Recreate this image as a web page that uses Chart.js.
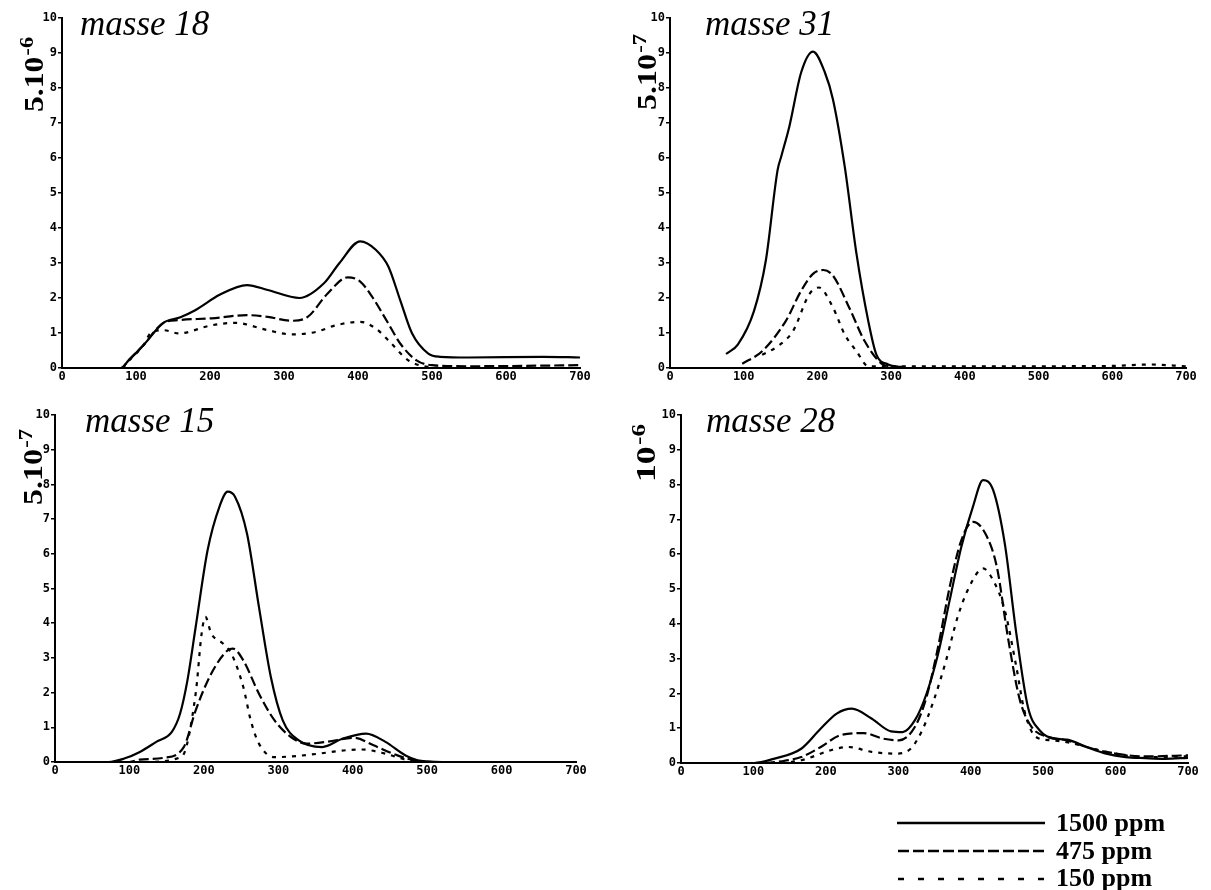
<!DOCTYPE html>
<html>
<head>
<meta charset="utf-8">
<script src="https://cdn.jsdelivr.net/npm/chart.js@4/dist/chart.umd.min.js"></script>
<style>
  html, body { margin: 0; padding: 0; background: #fff; }
  #wrap { position: relative; width: 1211px; height: 890px; overflow: hidden; background: #fff; }
  .pane { position: absolute; }
  #legend { position: absolute; left: 0; top: 0; }
</style>
</head>
<body>
<div id="wrap">
  <div class="pane" style="left:0;top:0;width:605px;height:400px"><canvas id="c18"></canvas></div>
  <div class="pane" style="left:605px;top:0;width:606px;height:400px"><canvas id="c31"></canvas></div>
  <div class="pane" style="left:0;top:400px;width:605px;height:400px"><canvas id="c15"></canvas></div>
  <div class="pane" style="left:605px;top:400px;width:606px;height:400px"><canvas id="c28"></canvas></div>
  <svg id="legend" width="1211" height="890">
    <line x1="897" y1="823" x2="1045" y2="823" stroke="#000" stroke-width="2.5"/>
    <line x1="898" y1="851" x2="1045" y2="851" stroke="#000" stroke-width="2.5" stroke-dasharray="11,4"/>
    <line x1="898" y1="879" x2="1045" y2="879" stroke="#000" stroke-width="2.5" stroke-dasharray="6,14"/>
    <text x="1056" y="831" font-family="Liberation Serif" font-weight="bold" font-size="26">1500 ppm</text>
    <text x="1056" y="859" font-family="Liberation Serif" font-weight="bold" font-size="26">475 ppm</text>
    <text x="1056" y="886" font-family="Liberation Serif" font-weight="bold" font-size="26">150 ppm</text>
  </svg>
</div>
<script>
// ---- common axis ticks ----
const xTicks = [0, 100, 200, 300, 400, 500, 600, 700];
const yTicks = [0, 1, 2, 3, 4, 5, 6, 7, 8, 9, 10];
const seriesNames = ['1500 ppm', '475 ppm', '150 ppm'];

// ---- masse 18 ----
const m18_x_1500 = [0, 80, 90, 110, 137, 160, 180, 213, 250, 278, 321, 354, 375, 403, 424, 441, 457, 473, 495, 511, 550, 650, 700];
const m18_y_1500 = [0, 0, 0.22, 0.65, 1.29, 1.45, 1.65, 2.09, 2.37, 2.23, 2.0, 2.42, 3.0, 3.62, 3.38, 2.9, 1.94, 0.99, 0.41, 0.32, 0.3, 0.32, 0.3];
const m18_x_475 = [0, 80, 90, 110, 137, 158, 202, 250, 278, 310, 332, 359, 386, 403, 419, 441, 457, 479, 500, 550, 700];
const m18_y_475 = [0, 0, 0.22, 0.65, 1.29, 1.37, 1.42, 1.51, 1.46, 1.35, 1.46, 2.13, 2.59, 2.47, 2.04, 1.27, 0.70, 0.22, 0.08, 0.05, 0.08];
const m18_x_150 = [0, 80, 90, 110, 120, 137, 158, 202, 234, 278, 310, 343, 370, 403, 424, 441, 468, 495, 520, 700];
const m18_y_150 = [0, 0, 0.2, 0.65, 1.0, 1.08, 0.99, 1.22, 1.29, 1.08, 0.96, 1.03, 1.22, 1.32, 1.13, 0.79, 0.22, 0.03, 0, 0];

// ---- masse 31 ----
const m31_x_1500 = [76, 92, 114, 130, 146, 151, 162, 178, 194, 210, 221, 237, 253, 269, 280, 296, 310];
const m31_y_1500 = [0.40, 0.67, 1.63, 3.07, 5.66, 6.05, 6.91, 8.45, 9.04, 8.45, 7.68, 5.76, 3.26, 1.34, 0.38, 0.1, 0.03];
const m31_x_475 = [98, 125, 157, 178, 194, 208, 221, 243, 264, 286, 296, 320];
const m31_y_475 = [0.12, 0.48, 1.34, 2.21, 2.69, 2.8, 2.64, 1.73, 0.77, 0.14, 0.05, 0.03];
const m31_x_150 = [125, 146, 167, 189, 202, 221, 237, 253, 269, 290, 400, 500, 600, 650, 700];
const m31_y_150 = [0.38, 0.62, 1.06, 2.11, 2.30, 1.73, 0.96, 0.48, 0.05, 0.05, 0.05, 0.05, 0.06, 0.1, 0.05];

// ---- masse 15 ----
const m15_x_1500 = [0, 72, 93, 114, 136, 157, 168, 178, 189, 205, 221, 232, 242, 258, 274, 290, 306, 327, 359, 386, 418, 444, 471, 492, 520, 700];
const m15_y_1500 = [0, 0, 0.1, 0.29, 0.58, 0.87, 1.39, 2.36, 3.89, 6.1, 7.36, 7.79, 7.64, 6.58, 4.47, 2.45, 1.2, 0.63, 0.43, 0.67, 0.82, 0.58, 0.19, 0.03, 0, 0];
const m15_x_475 = [0, 100, 114, 146, 173, 189, 210, 232, 239, 253, 274, 295, 317, 338, 365, 402, 428, 460, 482, 510, 700];
const m15_y_475 = [0, 0, 0.07, 0.12, 0.43, 1.49, 2.55, 3.22, 3.27, 2.93, 1.97, 1.2, 0.72, 0.53, 0.58, 0.7, 0.48, 0.19, 0.05, 0, 0];
const m15_x_150 = [0, 120, 170, 189, 197, 202, 210, 226, 237, 253, 263, 274, 295, 317, 354, 391, 412, 444, 471, 500, 700];
const m15_y_150 = [0, 0, 0.15, 1.97, 3.7, 4.18, 3.7, 3.41, 3.12, 2.16, 1.2, 0.53, 0.14, 0.16, 0.24, 0.34, 0.36, 0.24, 0.07, 0, 0];

// ---- masse 28 ----
const m28_x_1500 = [0, 101, 128, 166, 193, 215, 236, 263, 290, 306, 323, 339, 355, 371, 387, 403, 417, 431, 447, 463, 479, 495, 517, 533, 560, 587, 614, 641, 668, 700];
const m28_y_1500 = [0, 0, 0.12, 0.41, 0.99, 1.42, 1.56, 1.28, 0.91, 0.89, 1.23, 1.99, 3.14, 4.68, 6.21, 7.36, 8.13, 7.84, 6.31, 3.72, 1.61, 0.94, 0.70, 0.67, 0.46, 0.27, 0.17, 0.14, 0.12, 0.15];
const m28_x_475 = [0, 110, 139, 166, 193, 220, 252, 279, 301, 323, 339, 355, 371, 387, 403, 420, 436, 452, 468, 484, 506, 533, 560, 587, 641, 700];
const m28_y_475 = [0, 0, 0.05, 0.17, 0.46, 0.8, 0.86, 0.70, 0.65, 1.04, 1.9, 3.34, 5.06, 6.4, 6.93, 6.6, 5.64, 3.53, 1.8, 1.04, 0.75, 0.65, 0.46, 0.32, 0.19, 0.22];
const m28_x_150 = [0, 130, 166, 209, 231, 263, 296, 317, 333, 349, 366, 382, 398, 417, 431, 447, 463, 474, 490, 512, 533, 587, 641, 700];
const m28_y_150 = [0, 0, 0.08, 0.38, 0.46, 0.32, 0.27, 0.41, 0.94, 1.8, 2.95, 4.2, 5.06, 5.59, 5.25, 4.39, 2.76, 1.51, 0.75, 0.65, 0.6, 0.32, 0.17, 0.19];

// ---- helpers ----
function pts(xs, ys) { return xs.map((x, i) => ({ x: x, y: ys[i] })); }

const dashStyles = [[], [10, 4], [4, 6]];

const panelText = {
  id: 'panelText',
  afterDraw(chart, args, o) {
    const ctx = chart.ctx;
    ctx.save();
    ctx.fillStyle = '#000';
    ctx.textAlign = 'left';
    ctx.textBaseline = 'alphabetic';
    ctx.font = 'italic 35px "Liberation Serif", "Times New Roman", serif';
    ctx.fillText(o.title, o.tx, o.ty);
    // rotated axis unit label with superscript
    ctx.translate(o.ax, o.ay);
    ctx.rotate(-Math.PI / 2);
    const mainFont = 'bold 27px "Liberation Serif", serif';
    const supFont = 'bold 19px "Liberation Serif", serif';
    ctx.font = mainFont;
    const w1 = ctx.measureText(o.main).width;
    ctx.font = supFont;
    const w2 = ctx.measureText(o.sup).width;
    const s = o.len / (w1 + w2 + 1);
    ctx.scale(s, 1);
    ctx.font = mainFont;
    ctx.fillText(o.main, 0, 0);
    ctx.font = supFont;
    ctx.fillText(o.sup, w1 + 1, -10);
    ctx.restore();
  }
};

function makeChart(id, xs, ys, pad, text) {
  const datasets = [0, 1, 2].map(i => ({
    label: seriesNames[i],
    data: pts(xs[i], ys[i]),
    borderColor: '#000',
    borderWidth: i === 0 ? 2.2 : 2.2,
    borderDash: dashStyles[i],
    pointRadius: 0,
    fill: false,
    cubicInterpolationMode: 'monotone'
  }));
  const tickFont = { family: '"DejaVu Sans Mono", monospace', size: 12, weight: 'bold' };
  return new Chart(document.getElementById(id), {
    type: 'line',
    data: { datasets },
    plugins: [panelText],
    options: {
      responsive: true,
      maintainAspectRatio: false,
      animation: false,
      events: [],
      layout: { padding: pad },
      plugins: {
        legend: { display: false },
        tooltip: { enabled: false },
        panelText: text
      },
      scales: {
        x: {
          type: 'linear', min: 0, max: 700,
          afterBuildTicks(scale) { scale.ticks = xTicks.map(v => ({ value: v })); },
          afterFit(scale) { scale.height = 20; },
          border: { display: true, color: '#000', width: 2 },
          grid: { display: true, drawOnChartArea: false, drawTicks: false, color: '#000' },
          ticks: { color: '#000', padding: 2, maxRotation: 0, autoSkip: false, font: tickFont }
        },
        y: {
          min: 0, max: 10,
          afterBuildTicks(scale) { scale.ticks = yTicks.map(v => ({ value: v })); },
          afterFit(scale) { scale.width = 20; },
          border: { display: true, color: '#000', width: 2 },
          grid: { display: true, drawOnChartArea: false, drawTicks: true, tickLength: 4, color: '#000', lineWidth: 1.5 },
          ticks: { color: '#000', padding: 1, autoSkip: false, font: tickFont }
        }
      }
    }
  });
}

makeChart('c18',
  [m18_x_1500, m18_x_475, m18_x_150], [m18_y_1500, m18_y_475, m18_y_150],
  { left: 42, top: 18, right: 25, bottom: 12 },
  { title: 'masse 18', tx: 80, ty: 35, main: '5.10', sup: '-6', ax: 43, ay: 112, len: 75 });

makeChart('c31',
  [m31_x_1500, m31_x_475, m31_x_150], [m31_y_1500, m31_y_475, m31_y_150],
  { left: 45, top: 18, right: 25, bottom: 12 },
  { title: 'masse 31', tx: 100, ty: 35, main: '5.10', sup: '-7', ax: 51, ay: 110, len: 76 });

makeChart('c15',
  [m15_x_1500, m15_x_475, m15_x_150], [m15_y_1500, m15_y_475, m15_y_150],
  { left: 35, top: 15, right: 29, bottom: 18 },
  { title: 'masse 15', tx: 85, ty: 32, main: '5.10', sup: '-7', ax: 42, ay: 105, len: 76 });

makeChart('c28',
  [m28_x_1500, m28_x_475, m28_x_150], [m28_y_1500, m28_y_475, m28_y_150],
  { left: 56, top: 15, right: 23, bottom: 17 },
  { title: 'masse 28', tx: 101, ty: 32, main: '10', sup: '-6', ax: 50, ay: 82, len: 58 });
</script>
</body>
</html>
